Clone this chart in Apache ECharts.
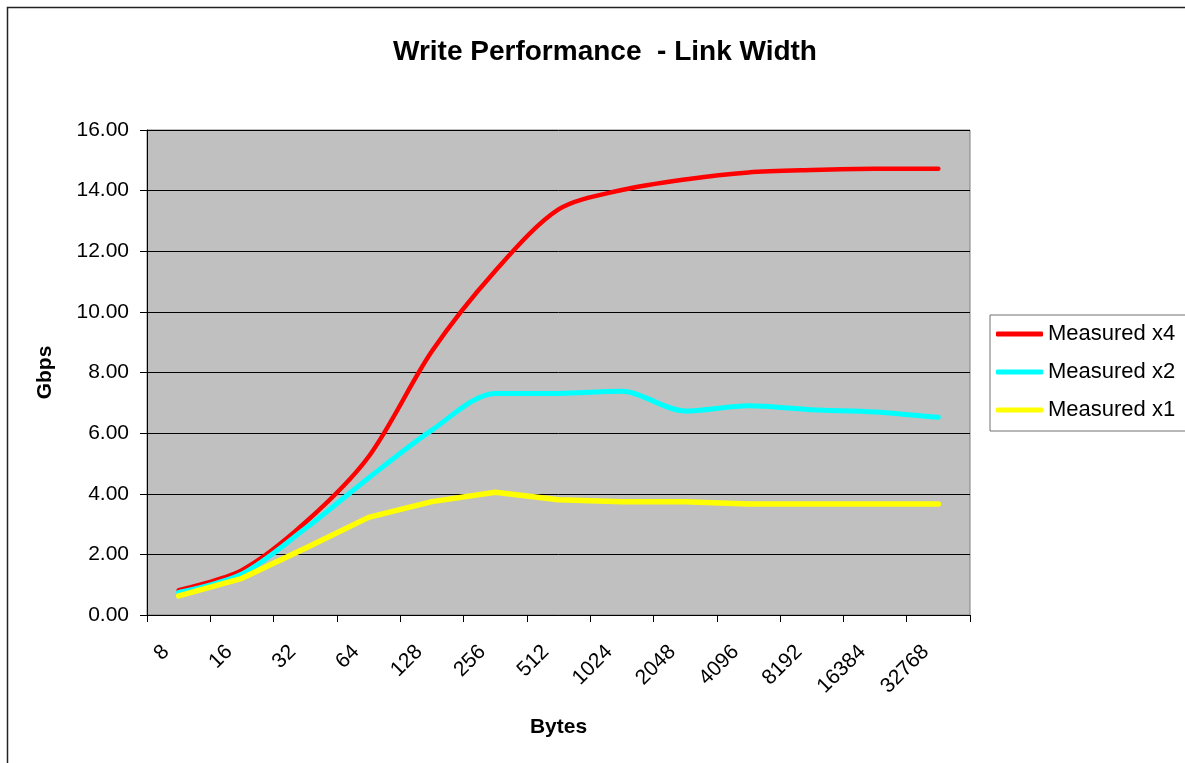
<!DOCTYPE html>
<html>
<head>
<meta charset="utf-8">
<title>Write Performance - Link Width</title>
<script src="https://cdn.jsdelivr.net/npm/echarts@6/dist/echarts.min.js"></script>
<style>
  html, body { margin: 0; padding: 0; background: #fff; }
  #chart { width: 1185px; height: 763px; }
</style>
</head>
<body>
<div id="chart"></div>
<script>
// transfer sizes in bytes (category axis)
const byteSizes = ['8', '16', '32', '64', '128', '256', '512', '1024', '2048', '4096', '8192', '16384', '32768'];

// throughput in Gbps
const measuredX4 = [0.82, 1.48, 3.05, 5.22, 8.7, 11.35, 13.38, 14.02, 14.37, 14.6, 14.68, 14.72, 14.72];
const measuredX2 = [0.74, 1.35, 2.85, 4.52, 6.1, 7.31, 7.31, 7.38, 6.73, 6.9, 6.77, 6.7, 6.52];
const measuredX1 = [0.63, 1.21, 2.2, 3.22, 3.74, 4.05, 3.8, 3.74, 3.74, 3.66, 3.66, 3.66, 3.66];

const yTicks = [0, 2, 4, 6, 8, 10, 12, 14, 16];

const FONT = "'Liberation Sans', Arial, sans-serif";

const chart = echarts.init(document.getElementById('chart'));

const lineSeries = (name, data, color, width, smooth) => ({
  name: name,
  type: 'line',
  data: data,
  smooth: smooth,
  showSymbol: false,
  symbol: 'none',
  lineStyle: { color: color, width: width, cap: 'round', join: 'round' },
  itemStyle: { color: color },
  emphasis: { disabled: true },
  animation: false
});

const option = {
  animation: false,
  textStyle: { fontFamily: FONT },
  title: {
    text: 'Write Performance  - Link Width',
    left: 600,
    textAlign: 'center',
    top: 33,
    textStyle: { fontFamily: FONT, fontSize: 28, fontWeight: 'bold', color: '#000' }
  },
  legend: {
    orient: 'vertical',
    left: 990,
    top: 315,
    padding: [8, 40, 10, 6],
    itemGap: 16,
    itemWidth: 47,
    itemHeight: 5,
    icon: 'roundRect',
    borderColor: '#707070',
    borderWidth: 1,
    backgroundColor: '#fff',
    textStyle: { fontFamily: FONT, fontSize: 22, color: '#000' },
    data: ['Measured x4', 'Measured x2', 'Measured x1']
  },
  graphic: [
    {
      type: 'rect',
      shape: { x: 7.5, y: 7.5, width: 1400, height: 900 },
      style: { fill: null, stroke: '#222', lineWidth: 1.5 },
      silent: true
    }
  ],
  grid: {
    left: 147,
    top: 130,
    right: 215,
    bottom: 148,
    show: true,
    backgroundColor: '#c0c0c0',
    borderColor: '#808080',
    borderWidth: 1
  },
  xAxis: {
    type: 'category',
    data: byteSizes,
    boundaryGap: true,
    name: 'Bytes',
    nameLocation: 'middle',
    nameGap: 102,
    nameTextStyle: { fontFamily: FONT, fontSize: 21, fontWeight: 'bold', color: '#000' },
    axisLine: { lineStyle: { color: '#000', width: 1 } },
    axisTick: { show: true, length: 7, lineStyle: { color: '#000' } },
    axisLabel: {
      interval: 0,
      rotate: 45,
      margin: 21,
      padding: [0, 18, 0, 0],
      fontFamily: FONT,
      fontSize: 21,
      color: '#000'
    },
    splitLine: { show: false }
  },
  yAxis: {
    type: 'value',
    min: yTicks[0],
    max: yTicks[yTicks.length - 1],
    interval: 2,
    name: 'Gbps',
    nameLocation: 'middle',
    nameGap: 91,
    nameTextStyle: { fontFamily: FONT, fontSize: 21, fontWeight: 'bold', color: '#000' },
    axisLine: { show: true, lineStyle: { color: '#000', width: 1 } },
    axisTick: { show: true, length: 7, lineStyle: { color: '#000' } },
    axisLabel: {
      margin: 18,
      fontFamily: FONT,
      fontSize: 21,
      color: '#000',
      formatter: v => v.toFixed(2)
    },
    splitLine: { show: true, lineStyle: { color: '#000', width: 1 } }
  },
  series: [
    lineSeries('Measured x4', measuredX4, '#ff0000', 4.5, 0.3),
    lineSeries('Measured x2', measuredX2, '#00ffff', 5, 0.3),
    lineSeries('Measured x1', measuredX1, '#ffff00', 5.5, false)
  ]
};

chart.setOption(option);
</script>
</body>
</html>
